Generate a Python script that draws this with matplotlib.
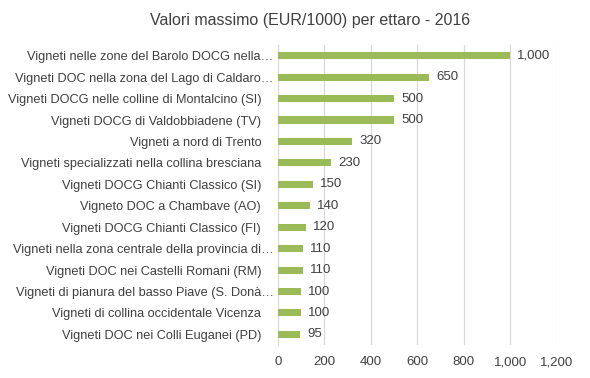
import matplotlib.pyplot as plt
from matplotlib.ticker import FuncFormatter
from matplotlib.transforms import ScaledTranslation

categories = [
    "Vigneti nelle zone del Barolo DOCG nella…",
    "Vigneti DOC nella zona del Lago di Caldaro…",
    "Vigneti DOCG nelle colline di Montalcino (SI)",
    "Vigneti DOCG di Valdobbiadene (TV)",
    "Vigneti a nord di Trento",
    "Vigneti specializzati nella collina bresciana",
    "Vigneti DOCG Chianti Classico (SI)",
    "Vigneto DOC a Chambave (AO)",
    "Vigneti DOCG Chianti Classico (FI)",
    "Vigneti nella zona centrale della provincia di…",
    "Vigneti DOC nei Castelli Romani (RM)",
    "Vigneti di pianura del basso Piave (S. Donà…",
    "Vigneti di collina occidentale Vicenza",
    "Vigneti DOC nei Colli Euganei (PD)",
]
values = [1000, 650, 500, 500, 320, 230, 150, 140, 120, 110, 110, 100, 100, 95]
xticks = [0, 200, 400, 600, 800, 1000, 1200]

plt.rcParams['font.family'] = ['Liberation Sans', 'DejaVu Sans']
text_col = "#404040"

fig = plt.figure(figsize=(5.9, 3.78), dpi=100)
ax = fig.add_axes([0.471, 0.087, 0.473, 0.794])

ypos = list(range(len(categories)))
ax.barh(ypos, values, height=0.33, color="#9BBB59", zorder=3)
for y, v in zip(ypos, values):
    ax.text(v + 30, y, f"{v:,}", va="center", ha="left", fontsize=9.5, color=text_col)

ax.set_yticks(ypos)
ax.set_yticklabels(categories, fontsize=9.2, color=text_col)
ax.set_ylim(len(categories) - 0.5, -0.5)
ax.set_xlim(0, 1200)
ax.set_xticks(xticks)
ax.xaxis.set_major_formatter(FuncFormatter(lambda x, p: f"{int(x):,}"))
ax.tick_params(axis="x", labelsize=9.5, colors=text_col, length=0, pad=8)
ax.tick_params(axis="y", length=0, pad=12)
ax.grid(axis="x", color="#D9D9D9", linewidth=0.9, zorder=0)
for s in ["top", "right", "bottom"]:
    ax.spines[s].set_visible(False)
ax.spines["left"].set_color("#D9D9D9")

# truncated labels sit closer to the axis, like in Excel
shift = ScaledTranslation(9 / 72, 0, fig.dpi_scale_trans)
for lbl in ax.get_yticklabels():
    if lbl.get_text().endswith("…"):
        lbl.set_transform(lbl.get_transform() + shift)

fig.text(0.525, 0.945, "Valori massimo (EUR/1000) per ettaro - 2016",
         ha="center", va="center", fontsize=11.5, color=text_col)

fig.savefig("out.png", dpi=100)
